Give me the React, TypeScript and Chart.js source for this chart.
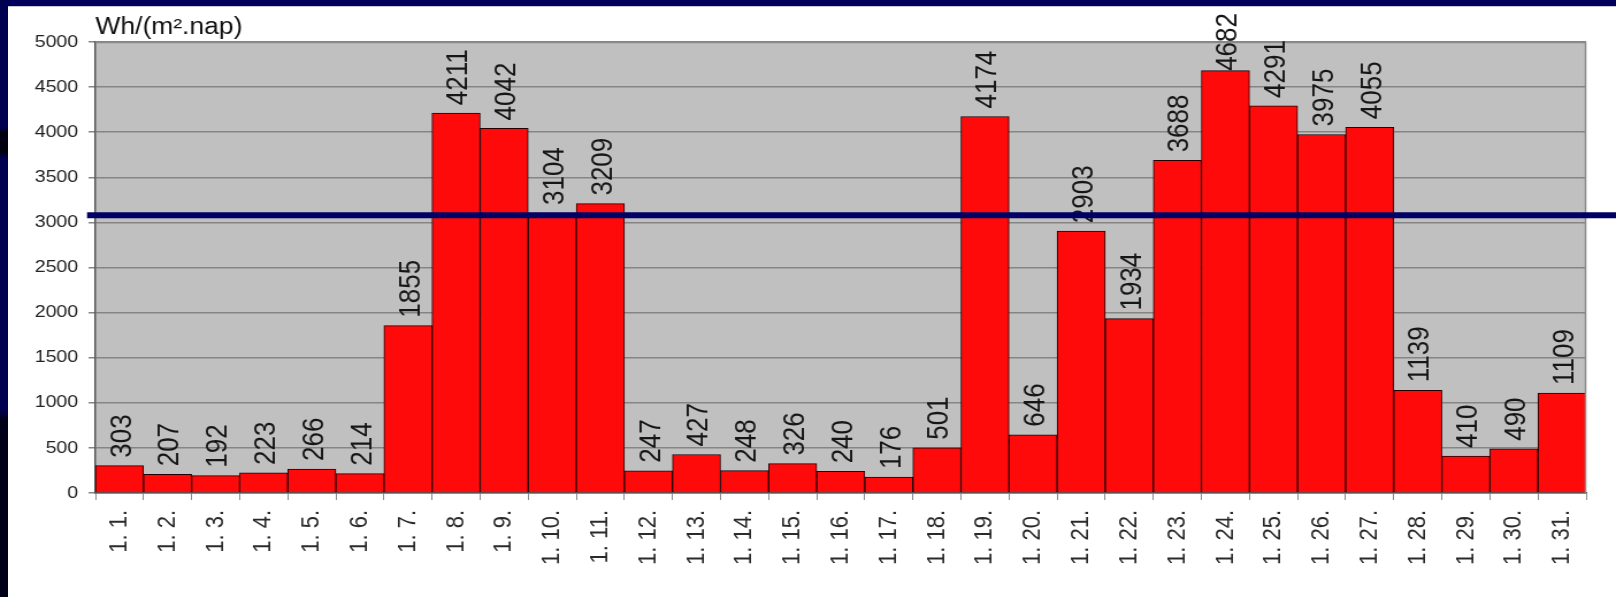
import { useEffect, useRef } from 'react';
import { Chart, registerables } from 'chart.js';

Chart.register(...registerables);

const dayLabels = [
  '1. 1.', '1. 2.', '1. 3.', '1. 4.', '1. 5.', '1. 6.', '1. 7.', '1. 8.', '1. 9.', '1. 10.',
  '1. 11.', '1. 12.', '1. 13.', '1. 14.', '1. 15.', '1. 16.', '1. 17.', '1. 18.', '1. 19.', '1. 20.',
  '1. 21.', '1. 22.', '1. 23.', '1. 24.', '1. 25.', '1. 26.', '1. 27.', '1. 28.', '1. 29.', '1. 30.',
  '1. 31.',
];

const dailyEnergy = [
  303, 207, 192, 223, 266, 214, 1855, 4211, 4042, 3104,
  3209, 247, 427, 248, 326, 240, 176, 501, 4174, 646,
  2903, 1934, 3688, 4682, 4291, 3975, 4055, 1139, 410, 490,
  1109,
];

const yMin = 0;
const yMax = 5000;
const yStep = 500;
const referenceLevel = 3080;
const unitLabel = 'Wh/(m\u00B2.nap)';

const FONT = "'Liberation Sans', Arial, sans-serif";
const STRETCH = 1.15;
const CSS_W = 1608;
const CSS_H = 590;
const CANVAS_W = Math.round(CSS_W / STRETCH);
const CANVAS_H = CSS_H;

export default function App() {
  const canvasRef = useRef<HTMLCanvasElement | null>(null);

  useEffect(() => {
    document.body.style.margin = '0';
    const canvas = canvasRef.current;
    if (!canvas) return;

    const decorPlugin = {
      id: 'decor',
      beforeDraw(chart: any) {
        const { ctx, chartArea } = chart;
        ctx.save();
        ctx.fillStyle = '#C0C0C0';
        ctx.fillRect(chartArea.left, chartArea.top, chartArea.right - chartArea.left, chartArea.bottom - chartArea.top);
        ctx.restore();
      },
      afterDatasetsDraw(chart: any) {
        const { ctx, chartArea } = chart;
        ctx.save();
        ctx.strokeStyle = '#8a8a8a';
        ctx.lineWidth = 1.5;
        ctx.beginPath();
        ctx.moveTo(chartArea.left, chartArea.top + 0.5);
        ctx.lineTo(chartArea.right - 0.5, chartArea.top + 0.5);
        ctx.lineTo(chartArea.right - 0.5, chartArea.bottom);
        ctx.stroke();
        ctx.restore();

        const meta = chart.getDatasetMeta(0);
        ctx.save();
        ctx.font = `26px ${FONT}`;
        ctx.fillStyle = '#161616';
        ctx.textAlign = 'left';
        ctx.textBaseline = 'middle';
        meta.data.forEach((bar: any, i: number) => {
          const txt = String(dailyEnergy[i]);
          const w = ctx.measureText(txt).width;
          let bottom = bar.y - 8;
          if (bottom - w < 6) bottom = 6 + w;
          ctx.save();
          ctx.translate(bar.x + 2.6, bottom);
          ctx.rotate(-Math.PI / 2);
          ctx.fillText(txt, 0, 0);
          ctx.restore();
        });
        ctx.restore();

        ctx.save();
        ctx.font = `23px ${FONT}`;
        ctx.fillStyle = '#111111';
        ctx.textAlign = 'left';
        ctx.textBaseline = 'alphabetic';
        ctx.fillText(unitLabel, chartArea.left, 27);
        ctx.restore();
      },
      afterDraw(chart: any) {
        const { ctx, scales } = chart;
        const y = scales.y.getPixelForValue(referenceLevel);
        ctx.save();
        ctx.strokeStyle = '#000066';
        ctx.lineWidth = 6;
        ctx.beginPath();
        ctx.moveTo((87 - 8) / STRETCH, y);
        ctx.lineTo(chart.width, y);
        ctx.stroke();
        ctx.restore();
      },
    };

    const chart = new Chart(canvas, {
      type: 'bar',
      data: {
        labels: dayLabels,
        datasets: [
          {
            data: dailyEnergy,
            backgroundColor: '#FF0A0A',
            borderColor: '#220000',
            borderWidth: 1,
            barPercentage: 1,
            categoryPercentage: 1,
          },
        ],
      },
      options: {
        responsive: false,
        animation: false,
        events: [],
        layout: { padding: { left: 0, top: 35, right: 26, bottom: 0 } },
        plugins: {
          legend: { display: false },
          tooltip: { enabled: false },
          title: { display: false },
        },
        scales: {
          x: {
            type: 'category',
            offset: true,
            grid: {
              offset: true,
              drawOnChartArea: false,
              drawTicks: true,
              tickLength: 7,
              color: '#8a8a8a',
            },
            border: { color: '#555555', width: 1.5 },
            ticks: {
              minRotation: 90,
              maxRotation: 90,
              autoSkip: false,
              padding: 10,
              color: '#2a2a2a',
              font: { family: FONT, size: 22 },
            },
            afterFit: (s: any) => {
              s.height = 104;
              s.paddingLeft = 0;
              s.paddingRight = 0;
            },
          },
          y: {
            min: yMin,
            max: yMax,
            grid: {
              color: '#858585',
              lineWidth: 1.5,
              tickLength: 6,
            },
            border: { color: '#555555', width: 1.5 },
            ticks: {
              stepSize: yStep,
              padding: 9,
              color: '#222222',
              font: { family: FONT, size: 17 },
              callback: (v: any) => String(v),
            },
            afterFit: (s: any) => {
              s.width = 76;
              s.paddingTop = 0;
              s.paddingBottom = 0;
            },
          },
        },
      },
      plugins: [decorPlugin],
    });

    return () => chart.destroy();
  }, []);

  return (
    <div style={{ position: 'relative', width: 1616, height: 597, background: '#ffffff', overflow: 'hidden' }}>
      <div style={{ position: 'absolute', left: 0, top: 0, width: 1616, height: 6, background: '#00005C' }} />
      <div style={{ position: 'absolute', left: 0, top: 6, width: 1616, height: 1, background: '#c8c8d0' }} />
      <div
        style={{
          position: 'absolute',
          left: 0,
          top: 0,
          width: 8,
          height: 597,
          background:
            'linear-gradient(to bottom, #000050 0px, #000050 128px, #000010 132px, #000010 152px, #000050 158px, #000050 410px, #000018 420px, #000018 597px)',
        }}
      />
      <canvas
        ref={canvasRef}
        width={CANVAS_W}
        height={CANVAS_H}
        style={{ position: 'absolute', left: 8, top: 7, width: CSS_W, height: CSS_H }}
      />
    </div>
  );
}
